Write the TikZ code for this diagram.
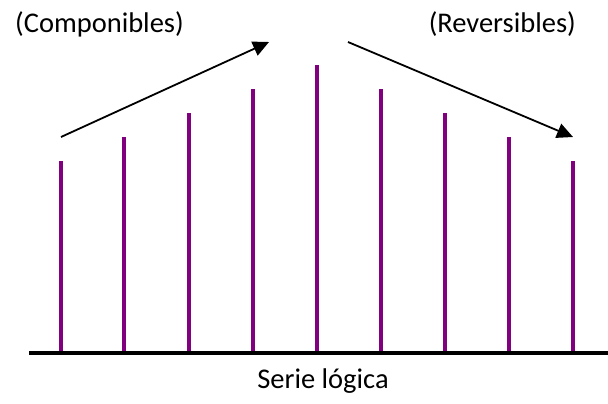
\documentclass[tikz,border=0pt]{standalone}
\usepackage{fontspec}
\setmainfont{Carlito}
\usetikzlibrary{arrows.meta}
\definecolor{barpurple}{RGB}{128,0,128}
\tikzset{
  bar/.style={draw=barpurple,line width=3.3pt},
  axis/.style={draw=black,line width=4pt},
  trend/.style={draw=black,line width=1.8pt,-{Triangle[length=16pt,width=15pt]}},
  lbl/.style={font=\fontsize{28.5}{33}\selectfont,inner sep=0pt}
}
\begin{document}
\begin{tikzpicture}[x=1pt,y=-1pt]
\useasboundingbox (0,0) rectangle (608,404);
\coordinate (axL) at (29,353);
\coordinate (axR) at (608,353);
\foreach \i/\x/\t in {1/61/161,2/124/137,3/189/113,4/253/89,5/317/65,6/381/89,7/445/113,8/509/137,9/573/161}{
  \coordinate (b\i) at (\x,353);
  \coordinate (t\i) at (\x,\t);
  \draw[bar] (b\i) -- (t\i);
}
\draw[axis] (axL) -- (axR);
\node[lbl,anchor=west] (comp) at (15,24) {(Componibles)};
\node[lbl,anchor=east] (rev) at (576,24) {(Reversibles)};
\node[lbl] (serie) at (323,381) {Serie lógica};
\coordinate (a1s) at (61,137);
\coordinate (a1e) at (269,42);
\coordinate (a2s) at (348,42);
\coordinate (a2e) at (573,137);
\draw[trend] (a1s) -- (a1e);
\draw[trend] (a2s) -- (a2e);
\end{tikzpicture}
\end{document}
